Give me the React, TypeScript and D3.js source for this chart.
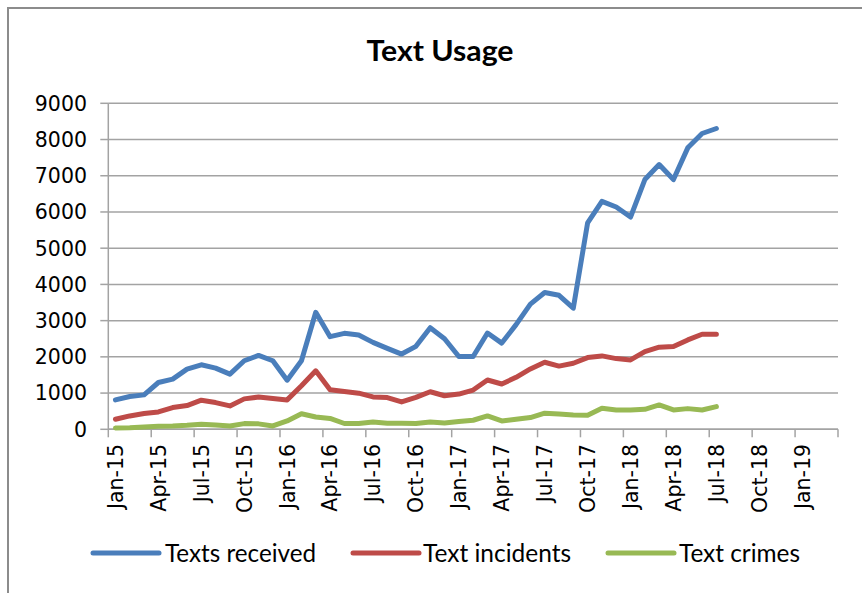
import React from "react";
import * as d3 from "d3";

const W = 862;
const H = 593;

const seriesNames = ["Texts received", "Text incidents", "Text crimes"];
const seriesColors = ["#4A7EBB", "#BE4B48", "#98B954"];

// Monthly values, Jan-15 .. Jul-18
const textsReceived = [
  812, 905, 950, 1292, 1385, 1661, 1781, 1689, 1523, 1892,
  2040, 1892, 1357, 1892, 3230, 2557, 2649, 2603, 2400, 2234,
  2077, 2290, 2806, 2500, 2010, 2010, 2658, 2380, 2890, 3454,
  3778, 3700, 3343, 5700, 6294, 6137, 5860, 6894, 7309, 6894,
  7770, 8166, 8304,
];
const textIncidents = [
  277, 369, 434, 480, 600, 655, 803, 738, 646, 840,
  890, 849, 812, 1200, 1615, 1089, 1043, 997, 895, 877,
  757, 880, 1037, 926, 972, 1083, 1361, 1250, 1435, 1667,
  1852, 1745, 1824, 1980, 2026, 1952, 1916, 2146, 2266, 2284,
  2468, 2625, 2625,
];
const textCrimes = [
  37, 46, 65, 83, 92, 110, 138, 120, 92, 157,
  150, 92, 230, 430, 340, 300, 160, 160, 200, 170,
  170, 160, 204, 176, 213, 250, 370, 231, 278, 324,
  444, 420, 396, 387, 580, 534, 534, 553, 672, 534,
  571, 534, 626,
];
const allSeries = [textsReceived, textIncidents, textCrimes];

// x-axis: months from Jan-15; labels every 3 months
const totalMonths = 51; // Jan-15 .. Mar-19
const tickLabels = [
  "Jan-15", "Apr-15", "Jul-15", "Oct-15", "Jan-16", "Apr-16", "Jul-16", "Oct-16",
  "Jan-17", "Apr-17", "Jul-17", "Oct-17", "Jan-18", "Apr-18", "Jul-18", "Oct-18", "Jan-19",
];
const yTicks = [0, 1000, 2000, 3000, 4000, 5000, 6000, 7000, 8000, 9000];

const left = 108.3;
const right = 838;
const top = 103.3;
const bottom = 429.3;

export default function App() {
  const x = d3.scaleLinear().domain([0, totalMonths]).range([left, right]);
  const y = d3.scaleLinear().domain([0, 9000]).range([bottom, top]);
  const line = d3
    .line<number>()
    .x((_, i) => x(i + 0.5))
    .y((d) => y(d));

  const gridColor = "#A3A3A3";
  const axisFont = "'DejaVu Sans', Verdana, sans-serif";
  const legendFont = "Lato, 'Open Sans', sans-serif";
  const xTickIdx = d3.range(0, totalMonths + 1, 3);

  const legendItems = [
    { lx: 93, tx: 165, tw: 151 },
    { lx: 353, tx: 423, tw: 148 },
    { lx: 608, tx: 679, tw: 121 },
  ];
  const legendY = 553;

  return (
    <svg
      width={W}
      height={H}
      style={{ position: "absolute", left: 0, top: 0, display: "block", background: "#fff" }}
    >
      <rect x={0} y={0} width={W} height={H} fill="#fff" />
      {/* frame */}
      <line x1={8} y1={7} x2={8} y2={H} stroke="#8C8C8C" strokeWidth={2} />
      <line x1={7} y1={8} x2={W} y2={8} stroke="#8C8C8C" strokeWidth={2} />

      <text
        x={440}
        y={61}
        textAnchor="middle"
        fontFamily={legendFont}
        fontWeight="bold"
        fontSize={29}
        textLength={147}
        lengthAdjust="spacingAndGlyphs"
        fill="#000"
      >
        Text Usage
      </text>

      {/* gridlines */}
      {yTicks.map((t) => (
        <line key={"g" + t} x1={left} x2={right} y1={y(t)} y2={y(t)} stroke={gridColor} strokeWidth={1.5} />
      ))}
      {/* y axis */}
      <line x1={left} x2={left} y1={top} y2={bottom} stroke={gridColor} strokeWidth={1.5} />
      {yTicks.map((t) => (
        <g key={"yt" + t}>
          <line x1={left - 8} x2={left} y1={y(t)} y2={y(t)} stroke={gridColor} strokeWidth={1.5} />
          <text
            x={87}
            y={y(t)}
            dy="0.36em"
            textAnchor="end"
            fontFamily={axisFont}
            fontSize={20.5}
            fill="#000"
          >
            {t}
          </text>
        </g>
      ))}
      {/* x axis */}
      <line x1={left} x2={right} y1={bottom} y2={bottom} stroke={gridColor} strokeWidth={1.5} />
      {xTickIdx.map((i) => (
        <line key={"xt" + i} x1={x(i)} x2={x(i)} y1={bottom} y2={bottom + 8} stroke={gridColor} strokeWidth={1.5} />
      ))}
      {tickLabels.map((lab, k) => {
        const cx = x(k * 3 + 0.5);
        const ty = 444;
        return (
          <text
            key={lab}
            transform={`translate(${cx},${ty}) rotate(-90)`}
            dy="0.36em"
            textAnchor="end"
            fontFamily={axisFont}
            fontSize={20.5}
            fill="#000"
          >
            {lab}
          </text>
        );
      })}

      {/* series */}
      {allSeries.map((s, k) => (
        <path
          key={seriesNames[k]}
          d={line(s) || ""}
          fill="none"
          stroke={seriesColors[k]}
          strokeWidth={5}
          strokeLinejoin="round"
          strokeLinecap="round"
        />
      ))}

      {/* legend */}
      {legendItems.map((it, k) => (
        <g key={"lg" + k}>
          <line
            x1={it.lx}
            x2={it.lx + 66}
            y1={legendY}
            y2={legendY}
            stroke={seriesColors[k]}
            strokeWidth={5}
            strokeLinecap="round"
          />
          <text
            x={it.tx}
            y={legendY}
            dy="0.35em"
            fontFamily={legendFont}
            fontSize={25}
            textLength={it.tw}
            lengthAdjust="spacingAndGlyphs"
            fill="#000"
          >
            {seriesNames[k]}
          </text>
        </g>
      ))}
    </svg>
  );
}
